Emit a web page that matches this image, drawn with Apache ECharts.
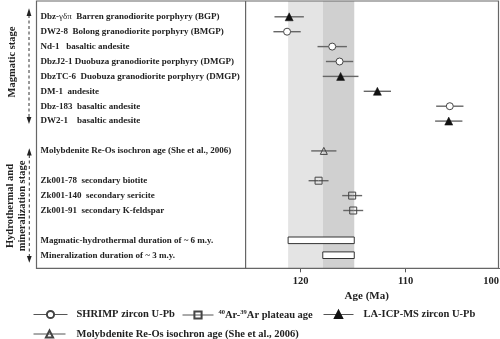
<!DOCTYPE html>
<html><head><meta charset="utf-8">
<script src="https://cdn.jsdelivr.net/npm/echarts@6/dist/echarts.min.js"></script>
<style>html,body{margin:0;padding:0;background:#fff}#c{width:500px;height:339px}</style>
</head><body><div id="c"></div>
<script>
// ---- data ----
const rowLabels = [
  'Dbz-γδπ  Barren granodiorite porphyry (BGP)',
  'DW2-8  Bolong granodiorite porphyry (BMGP)',
  'Nd-1   basaltic andesite',
  'DbzJ2-1 Duobuza granodiorite porphyry (DMGP)',
  'DbzTC-6  Duobuza granodiorite porphyry (DMGP)',
  'DM-1  andesite',
  'Dbz-183  basaltic andesite',
  'DW2-1    basaltic andesite',
  '',
  'Molybdenite Re-Os isochron age (She et al., 2006)',
  '',
  'Zk001-78  secondary biotite',
  'Zk001-140  secondary sericite',
  'Zk001-91  secondary K-feldspar',
  '',
  'Magmatic-hydrothermal duration of ~ 6 m.y.',
  'Mineralization duration of ~ 3 m.y.'
];
const ageTicks = [120, 110, 100];
const shrimpRows = [1, 2, 3, 6];
const shrimpAges = [121.3, 117.0, 116.3, 105.8];
const shrimpErr  = [1.3, 1.4, 1.3, 1.3];
const laRows = [0, 4, 5, 7];
const laAges = [121.1, 116.2, 112.7, 105.9];
const laErr  = [1.4, 1.7, 1.3, 1.3];
const arRows = [11, 12, 13];
const arAges = [118.3, 115.1, 115.0];
const arErr  = [0.95, 0.95, 0.95];
const reosRows = [9];
const reosAges = [117.8];
const reosErr  = [1.2];
const durationRows  = [15, 16];
const durationStart = [121.2, 117.9];
const durationEnd   = [114.9, 114.9];
const bandStart = [121.2, 117.9];
const bandEnd   = [117.9, 114.9];
const seriesNames = ['SHRIMP zircon U-Pb', '40Ar-39Ar plateau age', 'LA-ICP-MS zircon U-Pb', 'Molybdenite Re-Os isochron age (She et al., 2006)'];

// ---- chart ----
const FONT = 'Liberation Serif';
const chart = echarts.init(document.getElementById('c'), null, {renderer: 'canvas'});
const X_MIN = 100, X_MAX = 125.25;
const gridLeft = 245.6, gridWidth = 265.1;

function pts(rows, ages) { return rows.map((r, i) => [ages[i], r]); }
function errs(rows, ages, err, gap) { return rows.map((r, i) => [ages[i] + err[i], ages[i] - err[i], r, ages[i], gap]); }

const errData = [].concat(
  errs(shrimpRows, shrimpAges, shrimpErr, 3.5),
  errs(laRows, laAges, laErr, 0),
  errs(arRows, arAges, arErr, 0),
  errs(reosRows, reosAges, reosErr, 0)
);

const markerBase = {
  type: 'line', xAxisIndex: 1, yAxisIndex: 1, showSymbol: true, showAllSymbol: true,
  lineStyle: {opacity: 0, width: 0}, z: 5, silent: true, animation: false
};

const legendText = {
  fontFamily: FONT, fontWeight: 'bold', fontSize: 10.5, color: '#222',
  rich: { s: {fontFamily: FONT, fontWeight: 'bold', fontSize: 6.5, verticalAlign: 'top', padding: [0, 0, 5, 0]} }
};
function mkLegend(name, left, top, itemWidth, gap) {
  return {
    data: [name], left: left, top: top, padding: 0, itemWidth: itemWidth, itemHeight: 9,
    selectedMode: false,
    lineStyle: {color: '#555', width: 1, opacity: 1},
    textStyle: Object.assign({}, legendText, {padding: [0, 0, 0, gap]}),
    formatter: n => n.replace(/(\d\d)Ar/g, '{s|$1}Ar')
  };
}

const option = {
  animation: false,
  backgroundColor: '#fff',
  grid: [
    {left: gridLeft, width: gridWidth, top: 1, height: 267.3, outerBoundsMode: 'none'},
    {left: gridLeft, width: gridWidth, top: 9.35, height: 253.3, outerBoundsMode: 'none'},
    {left: gridLeft, width: 242.2, top: 1, height: 267.3, outerBoundsMode: 'none'}
  ],
  xAxis: [
    {
      gridIndex: 0, type: 'value', min: X_MIN, max: X_MAX, inverse: true,
      axisLine: {show: true, lineStyle: {color: '#666', width: 1.2}},
      axisTick: {show: true, length: 4, customValues: ageTicks, lineStyle: {color: '#555', width: 1}},
      splitLine: {show: false},
      axisLabel: {show: false}
    },
    {
      gridIndex: 1, type: 'value', min: X_MIN, max: X_MAX, inverse: true,
      axisLine: {show: false}, axisTick: {show: false}, splitLine: {show: false},
      axisLabel: {
        show: true, customValues: ageTicks, margin: 13.6, align: 'center',
        fontFamily: FONT, fontWeight: 'bold', fontSize: 10.5, color: '#222',
        formatter: v => (v === 100 ? '{r|' + v + '}' : String(v)),
        rich: {r: {fontFamily: FONT, fontWeight: 'bold', fontSize: 10.5, color: '#222', padding: [0, 39, 0, 0]}}
      }
    },
    {
      gridIndex: 2, type: 'value', min: 0, max: 1,
      axisLine: {show: false}, axisTick: {show: false}, axisLabel: {show: false}, splitLine: {show: false},
      name: 'Age (Ma)', nameLocation: 'middle', nameGap: 22, nameMoveOverlap: false,
      nameTextStyle: {fontFamily: FONT, fontWeight: 'bold', fontSize: 11, color: '#222'}
    }
  ],
  yAxis: [
    {gridIndex: 0, type: 'value', min: 0, max: 1, show: false},
    {
      gridIndex: 1, type: 'category', data: rowLabels, inverse: true, boundaryGap: true,
      axisLine: {show: false}, axisTick: {show: false}, splitLine: {show: false},
      axisLabel: {
        show: true, interval: 0, align: 'left', margin: 205,
        fontFamily: FONT, fontWeight: 'bold', fontSize: 9, color: '#222',
        formatter: v => v.replace(/([\u0370-\u03FF]+)/g, '{g|$1}'),
        rich: {g: {fontFamily: FONT, fontWeight: 'normal', fontSize: 9, color: '#222'}}
      }
    },
    {gridIndex: 2, type: 'value', min: 0, max: 1, show: false}
  ],
  legend: [
    mkLegend(seriesNames[0], 33, 309, 34, 4),
    mkLegend(seriesNames[1], 182, 309, 31, 0),
    mkLegend(seriesNames[2], 323, 309, 30, 5),
    mkLegend(seriesNames[3], 33, 328.5, 32, 6)
  ],
  series: [
    {
      type: 'custom', xAxisIndex: 0, yAxisIndex: 0, silent: true, z: 0,
      data: bandStart.map((s, i) => [s, bandEnd[i], i]),
      encode: {x: [0, 1]},
      renderItem: (params, api) => {
        const a = api.coord([api.value(0), 1]);
        const b = api.coord([api.value(1), 0]);
        const colors = ['#e4e4e4', '#d0d0d0'];
        return {type: 'rect', shape: {x: a[0], y: a[1], width: b[0] - a[0], height: b[1] - a[1]},
                style: {fill: colors[api.value(2)]}};
      }
    },
    {
      type: 'custom', xAxisIndex: 1, yAxisIndex: 1, silent: true, z: 2,
      data: errData, encode: {x: [0, 1], y: 2},
      renderItem: (params, api) => {
        const row = api.value(2);
        const lo = api.coord([api.value(0), row]);
        const hi = api.coord([api.value(1), row]);
        const c = api.coord([api.value(3), row]);
        const gap = api.value(4);
        const st = {stroke: '#666', lineWidth: 1.4};
        return {type: 'group', children: [
          {type: 'line', shape: {x1: lo[0], y1: lo[1], x2: c[0] - gap, y2: c[1]}, style: st},
          {type: 'line', shape: {x1: c[0] + gap, y1: c[1], x2: hi[0], y2: hi[1]}, style: st}
        ]};
      }
    },
    {
      type: 'custom', xAxisIndex: 1, yAxisIndex: 1, silent: true, z: 2,
      data: durationRows.map((r, i) => [durationStart[i], durationEnd[i], r]), encode: {x: [0, 1], y: 2},
      renderItem: (params, api) => {
        const a = api.coord([api.value(0), api.value(2)]);
        const b = api.coord([api.value(1), api.value(2)]);
        return {type: 'rect', shape: {x: a[0], y: a[1] - 3.3, width: b[0] - a[0], height: 6.6},
                style: {fill: '#fff', stroke: '#333', lineWidth: 1}};
      }
    },
    Object.assign({}, markerBase, {
      name: seriesNames[0], data: pts(shrimpRows, shrimpAges), symbol: 'circle', symbolSize: 7,
      itemStyle: {color: '#fff', borderColor: '#444', borderWidth: 1}
    }),
    Object.assign({}, markerBase, {
      name: seriesNames[1], data: pts(arRows, arAges), symbol: 'rect', symbolSize: 7,
      itemStyle: {color: 'rgba(255,255,255,0)', borderColor: '#444', borderWidth: 1}
    }),
    Object.assign({}, markerBase, {
      name: seriesNames[2], data: pts(laRows, laAges), symbol: 'triangle', symbolSize: 8,
      itemStyle: {color: '#111', borderColor: '#111', borderWidth: 0.5}
    }),
    Object.assign({}, markerBase, {
      name: seriesNames[3], data: pts(reosRows, reosAges), symbol: 'triangle', symbolSize: 7,
      itemStyle: {color: 'rgba(255,255,255,0)', borderColor: '#444', borderWidth: 1}
    })
  ],
  graphic: [
    {type: 'rect', z: 100, silent: true, shape: {x: 36.5, y: 1, width: 462, height: 267.3},
     style: {fill: 'none', stroke: '#666', lineWidth: 1.2}},
    {type: 'line', z: 100, silent: true, shape: {x1: 245.6, y1: 1, x2: 245.6, y2: 268.3},
     style: {stroke: '#666', lineWidth: 1.2}},
    {type: 'text', z: 100, silent: true, x: 12, y: 62, rotation: Math.PI / 2,
     style: {text: 'Magmatic stage', font: 'bold 10.5px "Liberation Serif"', fill: '#222', align: 'center', verticalAlign: 'middle'}},
    {type: 'text', z: 100, silent: true, x: 16, y: 206, rotation: Math.PI / 2,
     style: {text: 'Hydrothermal and\nmineralization stage', font: 'bold 10.5px "Liberation Serif"', lineHeight: 12, fill: '#222', align: 'center', verticalAlign: 'middle'}},
    {type: 'line', z: 100, silent: true, shape: {x1: 29, y1: 15, x2: 29, y2: 117},
     style: {stroke: '#333', lineWidth: 1, lineDash: [3, 2.5]}},
    {type: 'polygon', z: 100, silent: true, shape: {points: [[26.6, 16], [31.4, 16], [29, 8.3]]}, style: {fill: '#222'}},
    {type: 'polygon', z: 100, silent: true, shape: {points: [[26.6, 117], [31.4, 117], [29, 124]]}, style: {fill: '#222'}},
    {type: 'line', z: 100, silent: true, shape: {x1: 29.3, y1: 155, x2: 29.3, y2: 256},
     style: {stroke: '#333', lineWidth: 1, lineDash: [3, 2.5]}},
    {type: 'polygon', z: 100, silent: true, shape: {points: [[26.9, 155.5], [31.7, 155.5], [29.3, 148.3]]}, style: {fill: '#222'}},
    {type: 'polygon', z: 100, silent: true, shape: {points: [[26.9, 256], [31.7, 256], [29.3, 262.7]]}, style: {fill: '#222'}}
  ]
};
chart.setOption(option);
</script>
</body></html>
